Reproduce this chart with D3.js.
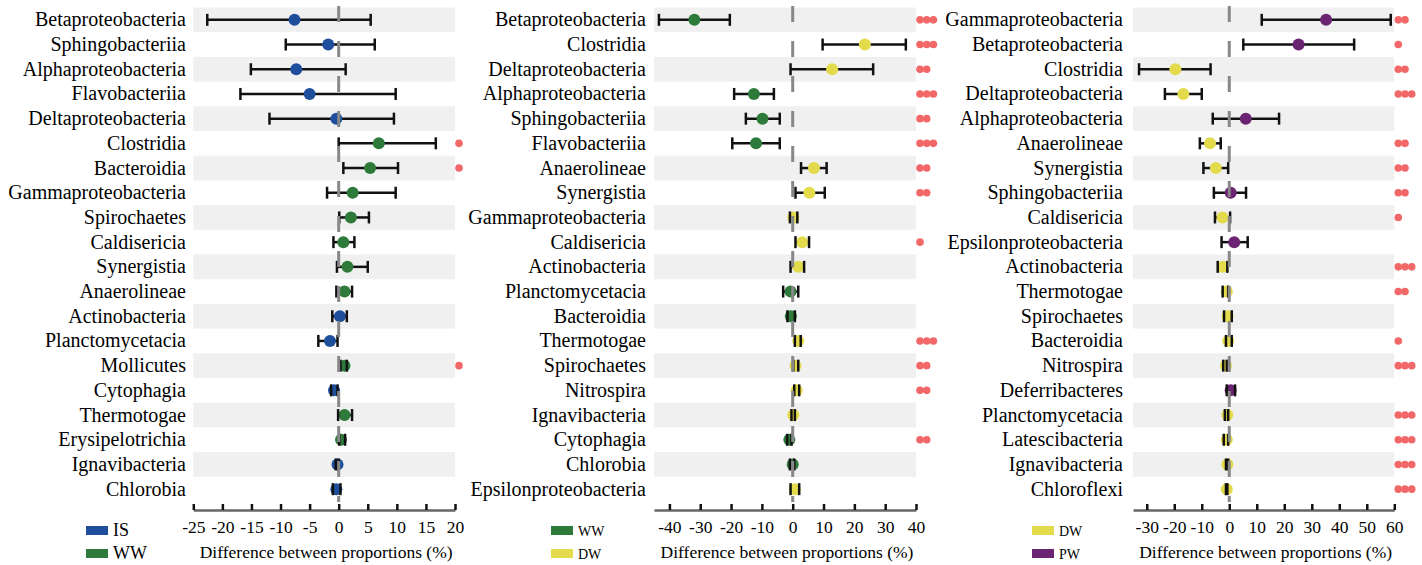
<!DOCTYPE html>
<html>
<head>
<meta charset="utf-8">
<script src="https://cdn.jsdelivr.net/npm/d3@7"></script>
<style>
  body { margin: 0; background: #fff; }
  text { font-family: "Liberation Serif", "Times New Roman", serif; fill: #000; }
</style>
</head>
<body>
<svg id="chart" width="1422" height="565"></svg>
<script>
// IS vs WW
const taxa1 = ['Betaproteobacteria', 'Sphingobacteriia', 'Alphaproteobacteria', 'Flavobacteriia', 'Deltaproteobacteria',
  'Clostridia', 'Bacteroidia', 'Gammaproteobacteria', 'Spirochaetes', 'Caldisericia', 'Synergistia', 'Anaerolineae',
  'Actinobacteria', 'Planctomycetacia', 'Mollicutes', 'Cytophagia', 'Thermotogae', 'Erysipelotrichia', 'Ignavibacteria', 'Chlorobia'];
const diff1 = [-7.6, -1.8, -7.3, -5.0, -0.4, 6.9, 5.4, 2.4, 2.1, 0.8, 1.5, 1.0, 0.2, -1.5, 1.0, -0.8, 1.0, 0.4, -0.2, -0.4];
const lo1 = [-22.6, -9.1, -15.1, -16.9, -11.9, 0.0, 0.8, -2.0, 0.1, -0.9, -0.3, -0.4, -1.1, -3.5, 0.3, -1.3, -0.1, 0.1, -0.5, -1.0];
const hi1 = [5.5, 6.2, 1.2, 9.8, 9.5, 16.7, 10.2, 9.8, 5.2, 2.7, 5.0, 2.3, 1.4, -0.2, 1.4, -0.2, 2.3, 1.1, 0.0, 0.3];
const group1 = ['IS', 'IS', 'IS', 'IS', 'IS', 'WW', 'WW', 'WW', 'WW', 'WW', 'WW', 'WW', 'IS', 'IS', 'WW', 'IS', 'WW', 'WW', 'IS', 'IS'];
const sig1 = [0, 0, 0, 0, 0, 1, 1, 0, 0, 0, 0, 0, 0, 0, 1, 0, 0, 0, 0, 0];
const ticks1 = [-25, -20, -15, -10, -5, 0, 5, 10, 15, 20];

// WW vs DW
const taxa2 = ['Betaproteobacteria', 'Clostridia', 'Deltaproteobacteria', 'Alphaproteobacteria', 'Sphingobacteriia',
  'Flavobacteriia', 'Anaerolineae', 'Synergistia', 'Gammaproteobacteria', 'Caldisericia', 'Actinobacteria', 'Planctomycetacia',
  'Bacteroidia', 'Thermotogae', 'Spirochaetes', 'Nitrospira', 'Ignavibacteria', 'Cytophagia', 'Chlorobia', 'Epsilonproteobacteria'];
const diff2 = [-31.9, 23.4, 12.8, -12.6, -9.8, -11.9, 6.9, 5.4, 0.2, 3.1, 1.8, -0.7, -0.6, 1.8, 0.9, 1.3, 0.2, -1.1, 0.0, 0.7];
const lo2 = [-43.4, 9.7, -0.7, -19.0, -15.2, -19.6, 2.7, 0.9, -0.9, 0.9, -0.7, -3.1, -1.7, 0.7, 0.2, 0.5, -0.4, -1.8, -0.9, -0.7];
const hi2 = [-20.4, 36.7, 26.1, -6.1, -4.2, -4.2, 11.0, 10.4, 1.5, 5.3, 3.7, 1.8, 0.7, 2.6, 1.8, 2.1, 0.7, -0.4, 0.5, 2.1];
const group2 = ['WW', 'DW', 'DW', 'WW', 'WW', 'WW', 'DW', 'DW', 'DW', 'DW', 'DW', 'WW', 'WW', 'DW', 'DW', 'DW', 'DW', 'WW', 'WW', 'DW'];
const sig2 = [3, 3, 2, 3, 2, 3, 2, 2, 0, 1, 0, 0, 0, 3, 2, 2, 0, 2, 0, 0];
const ticks2 = [-40, -30, -20, -10, 0, 10, 20, 30, 40];

// DW vs PW
const taxa3 = ['Gammaproteobacteria', 'Betaproteobacteria', 'Clostridia', 'Deltaproteobacteria', 'Alphaproteobacteria',
  'Anaerolineae', 'Synergistia', 'Sphingobacteriia', 'Caldisericia', 'Epsilonproteobacteria', 'Actinobacteria', 'Thermotogae',
  'Spirochaetes', 'Bacteroidia', 'Nitrospira', 'Deferribacteres', 'Planctomycetacia', 'Latescibacteria', 'Ignavibacteria', 'Chloroflexi'];
const diff3 = [35.2, 25.2, -19.6, -16.7, 6.0, -7.0, -4.9, 0.5, -2.5, 1.8, -2.4, -0.9, -0.6, -0.4, -1.2, 0.5, -0.7, -0.9, -0.7, -0.9];
const lo3 = [11.8, 5.1, -32.8, -23.4, -6.0, -10.7, -9.4, -5.6, -5.2, -2.8, -4.2, -2.4, -1.9, -1.2, -2.2, -0.9, -1.6, -2.0, -1.2, -1.2];
const hi3 = [58.7, 45.4, -6.8, -10.0, 18.1, -3.1, -0.4, 6.1, 0.3, 6.7, -0.7, -0.4, 0.9, 0.9, -0.9, 2.1, -0.4, -0.4, -0.4, -0.7];
const group3 = ['PW', 'PW', 'DW', 'DW', 'PW', 'DW', 'DW', 'PW', 'DW', 'PW', 'DW', 'DW', 'DW', 'DW', 'DW', 'PW', 'DW', 'DW', 'DW', 'DW'];
const sig3 = [2, 1, 2, 3, 0, 2, 2, 2, 1, 0, 3, 2, 0, 1, 3, 0, 3, 3, 3, 3];
const ticks3 = [-30, -20, -10, 0, 10, 20, 30, 40, 50, 60];

const colors = { IS: '#1f4f9c', WW: '#2e7a3b', DW: '#e3db4c', PW: '#6a2472' };

const svg = d3.select('#chart');

function drawPanel(p) {
  const x = d3.scaleLinear().domain(p.domain).range(p.range);
  const y = d3.scaleBand().domain(p.taxa).range([7.5, 501.5]);
  const rows = p.taxa.map((t, i) => ({ t, v: p.diff[i], lo: p.lo[i], hi: p.hi[i], grp: p.group[i], sig: p.sig[i] }));
  const g = svg.append('g');
  const cy = d => y(d.t) + y.bandwidth() / 2;

  // bandas alternas
  g.selectAll('rect.band')
    .data(rows.filter((d, i) => i % 2 === 0))
    .enter().append('rect')
    .attr('x', p.range[0])
    .attr('width', p.range[1] - p.range[0])
    .attr('y', d => y(d.t))
    .attr('height', y.bandwidth())
    .attr('fill', '#f0f0f0');

  g.selectAll('text.label')
    .data(rows)
    .enter().append('text')
    .attr('x', p.labelX)
    .attr('y', d => cy(d) + 6.5)
    .attr('text-anchor', 'end')
    .style('font-size', '20px')
    .text(d => d.t);

  g.selectAll('line.err')
    .data(rows)
    .enter().append('line')
    .attr('x1', d => x(d.lo)).attr('x2', d => x(d.hi))
    .attr('y1', cy).attr('y2', cy)
    .attr('stroke', '#111').attr('stroke-width', 2.5);

  g.selectAll('circle.pt')
    .data(rows)
    .enter().append('circle')
    .attr('cx', d => x(d.v))
    .attr('cy', cy)
    .attr('r', 6)
    .attr('fill', d => colors[d.grp]);

  ['lo', 'hi'].forEach(k => {
    g.selectAll('line.cap-' + k)
      .data(rows)
      .enter().append('line')
      .attr('x1', d => x(d[k])).attr('x2', d => x(d[k]))
      .attr('y1', d => cy(d) - 6).attr('y2', d => cy(d) + 6)
      .attr('stroke', '#111').attr('stroke-width', 2.5);
  });

  // linea de cero
  g.append('line')
    .attr('x1', x(0)).attr('x2', x(0))
    .attr('y1', 6).attr('y2', 502)
    .attr('stroke', '#888').attr('stroke-width', 3)
    .attr('stroke-dasharray', '16,19');

  // puntos de significancia
  rows.forEach(d => {
    for (let k = 0; k < d.sig; k++) {
      g.append('circle')
        .attr('cx', p.range[1] + 4 + k * 6.7)
        .attr('cy', cy(d))
        .attr('r', 3.8)
        .attr('fill', '#f26868');
    }
  });

  const axis = g.append('g')
    .attr('transform', 'translate(0,510)')
    .call(d3.axisBottom(x).tickValues(p.ticks).tickSizeInner(-6).tickSizeOuter(0)
      .tickPadding(11).tickFormat(d => String(d)));
  axis.select('.domain').attr('stroke', '#666').attr('stroke-width', 2.5);
  axis.selectAll('.tick line').attr('stroke', '#111').attr('stroke-width', 2.5);
  axis.selectAll('.tick text')
    .style('font-family', '"Liberation Serif", serif')
    .style('font-size', '17.5px')
    .attr('fill', '#000');

  g.append('text')
    .attr('x', (p.range[0] + p.range[1]) / 2 + 2)
    .attr('y', 558)
    .attr('text-anchor', 'middle')
    .style('font-size', '17.5px')
    .text('Difference between proportions (%)');

  p.legend.forEach((name, i) => {
    g.append('rect')
      .attr('x', p.legendX).attr('y', 526 + i * 23)
      .attr('width', 22).attr('height', 9)
      .attr('fill', colors[name]);
    g.append('text')
      .attr('x', p.legendX + 27).attr('y', 536 + i * 23)
      .style('font-size', p.legendFont + 'px')
      .text(name);
  });
}

drawPanel({ taxa: taxa1, diff: diff1, lo: lo1, hi: hi1, group: group1, sig: sig1, ticks: ticks1,
  domain: [-25, 20], range: [193.3, 455], labelX: 186, legend: ['IS', 'WW'], legendX: 86, legendFont: 18 });
drawPanel({ taxa: taxa2, diff: diff2, lo: lo2, hi: hi2, group: group2, sig: sig2, ticks: ticks2,
  domain: [-45, 40], range: [654, 916], labelX: 646, legend: ['WW', 'DW'], legendX: 551, legendFont: 14 });
drawPanel({ taxa: taxa3, diff: diff3, lo: lo3, hi: hi3, group: group3, sig: sig3, ticks: ticks3,
  domain: [-35, 60], range: [1133, 1394.3], labelX: 1123, legend: ['DW', 'PW'], legendX: 1032, legendFont: 14 });
</script>
</body>
</html>
